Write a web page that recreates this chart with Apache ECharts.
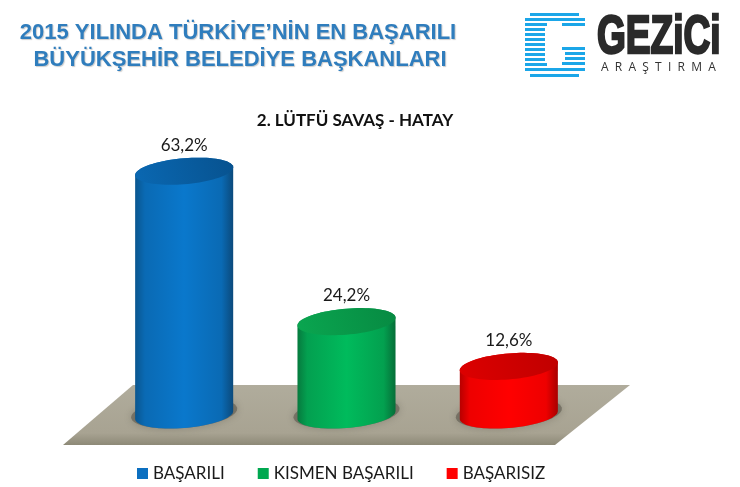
<!DOCTYPE html>
<html><head><meta charset="utf-8">
<style>html,body{margin:0;padding:0;background:#fff}#c{width:740px;height:487px}</style>
<script src="https://cdn.jsdelivr.net/npm/echarts@6/dist/echarts.min.js"></script>
</head><body><div id="c"></div>
<script>
const categories = ['BAŞARILI', 'KISMEN BAŞARILI', 'BAŞARISIZ'];
const values = [63.2, 24.2, 12.6];
const legendColors = ['#0b6fc0', '#00a850', '#ff0000'];
const bodyStops = [
  ['#0a568f', '#0a6ab4', '#0a78cc', '#0a6ab4', '#0b4a7c'],
  ['#067a3e', '#03a050', '#00bb5c', '#03a04f', '#066e38'],
  ['#b80000', '#ee0000', '#ff0000', '#ee0000', '#a80000']
];
const capStops = [['#0a68b2', '#07528f'], ['#0aa650', '#078a42'], ['#dd0000', '#c00000']];

function ramp(cols) {
  return { type: 'linear', x: 0, y: 0, x2: 1, y2: 0,
    colorStops: cols.map((c, i) => ({ offset: [0, 0.1, 0.5, 0.88, 1][i], color: c })) };
}
function arc(cx, cy, rx, ry, s, from, to, n) {
  const pts = [];
  for (let i = 0; i <= n; i++) {
    const t = from + (to - from) * i / n;
    pts.push([cx + rx * Math.cos(t), cy + ry * Math.sin(t) - s * rx * Math.cos(t)]);
  }
  return pts;
}
function cylinder(idx) {
  return function (params, api) {
    const base = api.coord([api.value(0), 0]);
    const top = api.coord([api.value(0), api.value(1)]);
    const rx = api.size([1, 0])[0] * 0.302, ry = 13, s = 0.08;
    const cx = base[0];
    const bodyPts = arc(cx, base[1], rx, ry, s, 0, Math.PI, 40)
      .concat(arc(cx, top[1], rx, ry, s, Math.PI, 2 * Math.PI, 40));
    const capPts = arc(cx, top[1], rx, ry, s, 0, 2 * Math.PI, 80);
    const shadowPts = arc(cx, base[1] - 2, rx + 4, ry + 2, s, 0, 2 * Math.PI, 60);
    return { type: 'group', children: [
      { type: 'polygon', shape: { points: shadowPts },
        style: { fill: 'rgba(80,76,65,0.5)', shadowBlur: 8, shadowColor: 'rgba(80,76,65,0.7)' } },
      { type: 'polygon', shape: { points: bodyPts }, style: { fill: ramp(bodyStops[idx]) } },
      { type: 'polygon', shape: { points: capPts },
        style: { fill: { type: 'linear', x: 0, y: 1, x2: 1, y2: 0,
          colorStops: [{ offset: 0, color: capStops[idx][0] }, { offset: 1, color: capStops[idx][1] }] } } },
      { type: 'text', style: { x: cx, y: top[1] - 26, text: String(api.value(1)).replace('.', ',') + '%',
          align: 'center', verticalAlign: 'middle', fill: '#1a1a1a',
          font: '17px Lato, Carlito, sans-serif' } }
    ] };
  };
}
const logoBlue = '#1ba6e8';
const stripes = [
  [530, 579, 13], [525, 585, 18], [525, 547, 23], [562, 585, 23],
  [525, 545, 28], [525, 545, 33], [525, 545, 38], [525, 545, 43],
  [525, 545, 48], [562, 585, 47], [525, 545, 53], [565, 585, 52],
  [525, 545, 58], [565, 585, 57], [525, 547, 63], [562, 585, 62],
  [525, 585, 68], [530, 579, 74]
].map(r => ({ type: 'rect', shape: { x: r[0], y: r[2], width: r[1] - r[0], height: 3 }, style: { fill: logoBlue } }));

const titleStyle = { fontFamily: 'Liberation Sans, Arial', fontWeight: 'bold', fontSize: 22, color: '#2f7dbd',
  textShadowColor: 'rgba(0,0,0,0.2)', textShadowBlur: 1, textShadowOffsetX: 1, textShadowOffsetY: 1 };

const chart = echarts.init(document.getElementById('c'));
chart.setOption({
  animation: false,
  backgroundColor: '#fff',
  title: [
    { text: '2015 YILINDA TÜRKİYE’NİN EN BAŞARILI', left: 233, textAlign: 'center', top: 17, textStyle: titleStyle },
    { text: 'BÜYÜKŞEHİR BELEDİYE BAŞKANLARI', left: 235, textAlign: 'center', top: 44, textStyle: titleStyle },
    { text: '2. LÜTFÜ SAVAŞ - HATAY', left: 350, textAlign: 'center', top: 107,
      textStyle: { fontFamily: 'Lato, Carlito, sans-serif', fontWeight: 'bold', fontSize: 17, color: '#111' } }
  ],
  legend: {
    data: categories, left: 132, top: 460, itemWidth: 11, itemHeight: 11, itemGap: 33, icon: 'rect',
    textStyle: { fontFamily: 'Lato, Carlito, sans-serif', fontSize: 17, color: '#1a1a1a' }
  },
  grid: { left: 103, top: 145, width: 487, height: 270 },
  xAxis: { type: 'category', data: categories, show: false },
  yAxis: { type: 'value', min: 0, max: 70, show: false },
  graphic: [
    { type: 'polygon', z: 0, shape: { points: [[133, 385], [630, 385], [555, 445], [63, 445]] },
      style: { fill: { type: 'linear', x: 0, y: 0, x2: 0, y2: 1,
        colorStops: [{ offset: 0, color: '#b0ac9c' }, { offset: 0.8, color: '#a8a392' }, { offset: 1, color: '#8d8977' }] } } },
    { type: 'group', z: 1, children: stripes },
    { type: 'text', z: 1, x: 597, y: 12, scaleX: 0.7,
      style: { text: 'GEZiCi', font: 'bold 53px "Liberation Sans", sans-serif',
        fill: '#2a2a2a', stroke: '#2a2a2a', lineWidth: 2.5 } },
    { type: 'text', z: 1, x: 601, y: 62,
      style: { text: 'A  R  A  Ş  T  I  R  M  A', font: '12px "Open Sans", sans-serif', fill: '#333' } }
  ],
  series: categories.map((name, i) => ({
    name, type: 'custom', z: 3,
    itemStyle: { color: legendColors[i] },
    encode: { x: 0, y: 1 },
    renderItem: cylinder(i),
    data: [[i, values[i]]]
  }))
});
</script></body></html>
